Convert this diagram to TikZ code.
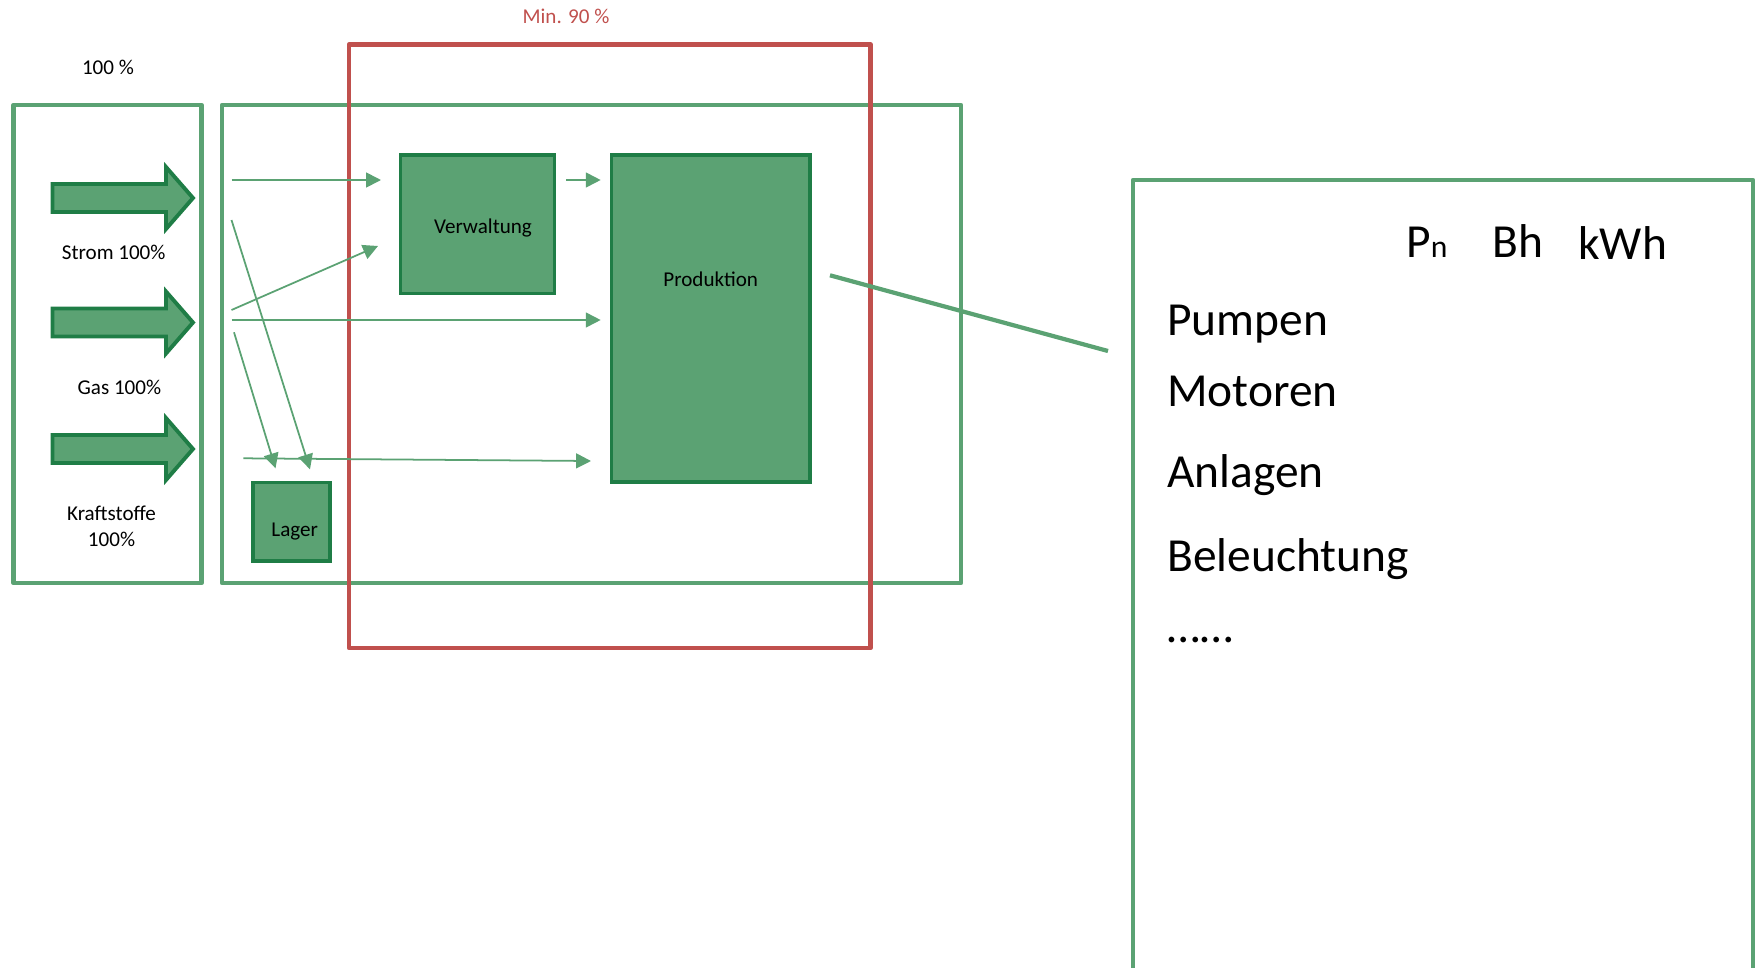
\documentclass[tikz,border=0pt]{standalone}
\usepackage{fontspec}
\setmainfont{Carlito}
\usepackage{tikz}
\usetikzlibrary{arrows.meta,fit,positioning}

\definecolor{boxgreen}{RGB}{91,162,115}
\definecolor{darkgreen}{RGB}{31,125,70}
\definecolor{limitred}{RGB}{192,80,77}

\begin{document}
\begin{tikzpicture}[x=0.2mm,y=-0.2mm,
  greenframe/.style={draw=boxgreen,line width=2.5pt,line join=round,inner sep=0pt},
  dept/.style={draw=darkgreen,fill=boxgreen,line width=2.2pt,inner sep=0pt},
  feed/.style={boxgreen,line width=1pt,-{Triangle[length=8.5pt,width=8.5pt]}},
  lbl/.style={font=\fontsize{12}{14.8}\selectfont,inner sep=0pt,anchor=base},
  big/.style={font=\fontsize{27}{32}\selectfont,inner sep=0pt,anchor=base west}]
\useasboundingbox (0,0) rectangle (1758,968);

% Frames
\node[greenframe,fit={(13.5,105) (201.5,583)}] (sources) {};
\node[greenframe,fit={(222,105) (961,583)}] (plant) {};
\node[greenframe,draw=limitred,fit={(349,44.5) (870.5,648)}] (limit) {};

\node[lbl] (total) at (108,74) {100 \%};
\node[lbl,text=limitred] (minimum) at (566,23.3) {Min. 90 \%};

% Energy inputs
\foreach \y in {198,322.5,449}
  \draw[dept,line join=miter] (52.5,\y-14) -- (166,\y-14) -- (166,\y-31) -- (193,\y)
    -- (166,\y+31) -- (166,\y+14) -- (52.5,\y+14) -- cycle;
\node[lbl] (strom) at (113.7,259) {Strom 100\%};
\node[lbl] (gas) at (119.4,394.3) {Gas 100\%};
\node[lbl,align=center] (kraft) at (111.5,546.7) {Kraftstoffe\\100\%};

% Departments
\node[dept,fit={(400.5,155) (554.5,293.5)}] (verw) {};
\node[dept,fit={(611.5,155) (810,482)}] (prod) {};
\node[dept,fit={(253,482.5) (330,561)}] (lager) {};
\node[lbl] (verwname) at (483,233) {Verwaltung};
\node[lbl] (prodname) at (710.7,286.7) {Produktion};
\node[lbl] (lagername) at (294.7,536) {Lager};

% Flows
\coordinate (s1) at (231.5,180);   \coordinate (e1) at (381,180);
\coordinate (s2) at (566.4,180);   \coordinate (e2) at (600.7,180);
\coordinate (s3) at (231.5,310);   \coordinate (e3) at (378,246);
\coordinate (s4) at (231.5,320);   \coordinate (e4) at (600.7,320);
\coordinate (s5) at (231.5,220);   \coordinate (e5) at (310,469.3);
\coordinate (s6) at (234,332.3);   \coordinate (e6) at (275.5,468.3);
\coordinate (s7) at (243.4,458.3); \coordinate (e7) at (591,461);
\foreach \i in {1,...,7}
  \draw[feed] (s\i) -- (e\i);

% Detail of Produktion
\coordinate (zoomfrom) at (830,275.3);
\coordinate (zoomto) at (1108,351);
\draw[boxgreen,line width=2.4pt] (zoomfrom) -- (zoomto);
\draw[greenframe] (1133,968) -- (1133,180) -- (1753,180) -- (1753,968);

\node[big] (pn) at (1406,257) {P{\fontsize{18}{20}\selectfont n}};
\node[big] (bh) at (1492,257) {Bh};
\node[big] (kwh) at (1578,259) {kWh};
\foreach \y/\entry [count=\i] in {335/Pumpen,406/Motoren,487/Anlagen,571/Beleuchtung,642/……}
  \node[big] (load\i) at (1167,\y) {\entry};
\end{tikzpicture}
\end{document}
